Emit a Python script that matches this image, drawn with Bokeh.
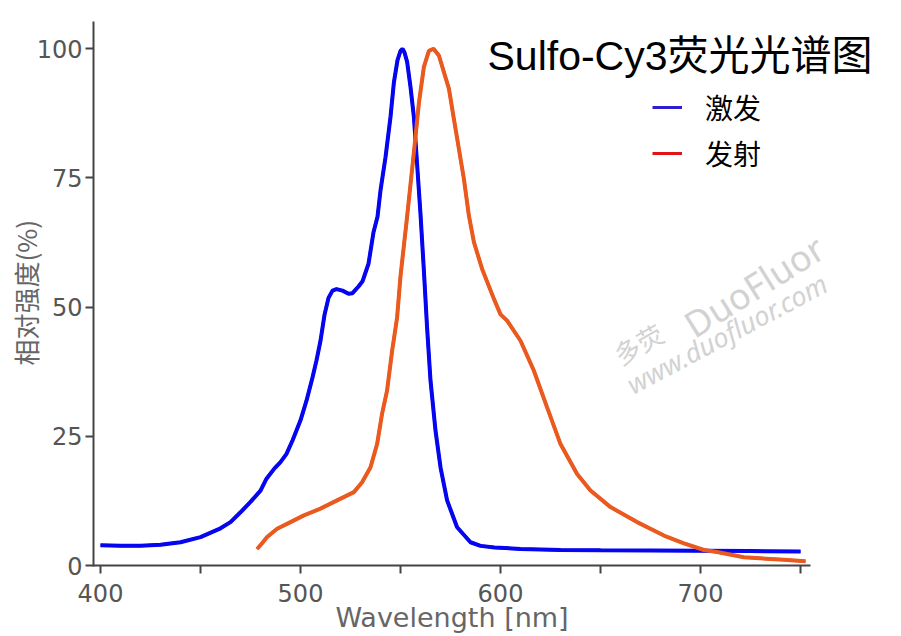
from bokeh.plotting import figure
from bokeh.models import Range1d, FixedTicker, Label, Legend, LegendItem
from bokeh.embed import file_html
from bokeh.resources import INLINE

# ---- data ----
ex_nm = [400, 410, 420, 430, 440, 450, 460, 465, 470, 475, 480, 483, 487, 490,
         493, 496, 500, 503, 506, 508, 510, 512, 514, 516, 518, 521, 524, 526,
         529, 531, 534, 536.5, 538.5, 540, 542.5, 545, 546.7, 548.5, 550, 551,
         552, 553.3, 555, 556.7, 558.3, 560, 561.7, 563.3, 565, 567.5, 570,
         573.3, 578.3, 585, 590, 597, 610, 630, 650, 675, 700, 725, 750]
ex_val = [3.9, 3.8, 3.8, 4.0, 4.5, 5.5, 7.2, 8.4, 10.3, 12.3, 14.5, 16.8, 18.8, 20.0,
          21.6, 24.2, 28.1, 31.9, 36.4, 39.7, 43.5, 48.5, 51.8, 53.2, 53.5, 53.2, 52.6, 52.7,
          54.0, 55.0, 58.4, 64.5, 67.5, 72.6, 79.0, 86.8, 93.5, 97.8, 99.6, 100.0,
          99.3, 97.5, 92.6, 86.8, 77.7, 68.0, 57.0, 46.0, 35.8, 26.1, 19.0,
          12.6, 7.4, 4.5, 3.8, 3.5, 3.2, 3.0, 2.95, 2.9, 2.85, 2.8, 2.7]

em_nm = [478.3, 481, 483.3, 488.3, 495, 501.7, 510, 518.3, 526.7, 530.8, 535, 538.3,
         540.8, 543.3, 545.8, 548.3, 550, 553.3, 556.7, 559.2, 561.7, 564.2, 566.5,
         569.2, 571.7, 574.2, 576.7, 579.2, 581.7, 584.2, 586.7, 590.8, 596.7, 600, 603.3, 610,
         616.7, 623.3, 630, 638.3, 645, 655, 668.3, 681.7, 691.7, 701.7, 708.3,
         721.7, 741.7, 752.5]
em_val = [3.2, 4.4, 5.5, 7.1, 8.4, 9.7, 11.0, 12.6, 14.2, 16.1, 19.0, 23.5,
          29.4, 33.9, 41.5, 48.0, 56.0, 67.5, 80.0, 89.5, 96.5, 99.6, 100.0,
          98.7, 95.5, 92.3, 86.4, 80.6, 74.8, 67.7, 62.6, 57.4, 51.6, 48.6, 47.4, 43.5,
          37.7, 30.6, 23.5, 17.7, 14.5, 11.3, 8.4, 5.8, 4.3, 3.0, 2.6,
          1.6, 1.1, 0.8]

x_ticks = [400, 450, 500, 550, 600, 650, 700, 750]
x_tick_labels = {400: "400", 450: "", 500: "500", 550: "", 600: "600", 650: "", 700: "700", 750: ""}
y_ticks = [0, 25, 50, 75, 100]

title_text = "Sulfo-Cy3荧光光谱图"
x_label = "Wavelength [nm]"
y_label = "相对强度(%)"
legend_labels = ["激发", "发射"]

W, H = 895, 634

# ---- figure: frame spans the whole canvas, axes are pinned inside it ----
p = figure(width=W, height=H, output_backend="svg", toolbar_location=None,
           x_range=Range1d(350, 350 + W / 2), y_range=Range1d(565 / 5.167 - H / 5.167, 565 / 5.167),
           min_border_left=0, min_border_right=0, min_border_top=0, min_border_bottom=0)
p.outline_line_color = None
p.xgrid.visible = False
p.ygrid.visible = False
p.background_fill_color = "white"
p.border_fill_color = "white"

# legend swatch renderers (hidden beneath the real curves)
lg_ex = p.line(ex_nm, ex_val, line_color="#2b1fd0", line_width=3)
lg_em = p.line(em_nm, em_val, line_color="#e01515", line_width=3)

ex_line = p.line(ex_nm, ex_val, line_color="#0505f0", line_width=4)
em_line = p.line(em_nm, em_val, line_color="#ea5a1f", line_width=4)

# axes
for ax in (p.xaxis[0], p.yaxis[0]):
    ax.axis_line_color = "#444444"
    ax.axis_line_width = 2
    ax.major_tick_line_color = "#444444"
    ax.major_tick_line_width = 2
    ax.major_tick_out = 8
    ax.major_tick_in = 0
    ax.minor_tick_line_color = None
    ax.major_label_text_color = "#555555"
    ax.major_label_text_font = "DejaVu Sans"
    ax.major_label_text_font_size = "24px"

p.xaxis.fixed_location = 0
p.xaxis.bounds = (396.5, 755)
p.xaxis.ticker = FixedTicker(ticks=x_ticks)
p.xaxis.major_label_overrides = x_tick_labels
p.xaxis.major_label_standoff = 10
p.xaxis.axis_label = x_label
p.xaxis.axis_label_text_font = "DejaVu Sans"
p.xaxis.axis_label_text_font_size = "27px"
p.xaxis.axis_label_text_font_style = "normal"
p.xaxis.axis_label_text_color = "#666666"
p.xaxis.axis_label_standoff = -3

p.yaxis.fixed_location = 396.5
p.yaxis.bounds = (-0.2, 105.3)
p.yaxis.ticker = FixedTicker(ticks=y_ticks)
p.yaxis.major_label_standoff = 3

# y axis title
p.add_layout(Label(x=362.5, y=52.8, text=y_label, angle=90, angle_units="deg",
                   text_align="center", text_baseline="middle",
                   text_font="Noto Sans CJK SC", text_font_size="26px",
                   text_color="#666666"))

# chart title
p.add_layout(Label(x=786, y=98.7, text=title_text, text_align="right",
                   text_baseline="alphabetic",
                   text_font="Liberation Sans, Noto Sans CJK SC", text_font_size="41px",
                   text_color="#000000"))

# watermark
p.add_layout(Label(x=693.5, y=46, text="DuoFluor", angle=32, angle_units="deg",
                   text_font="Noto Sans", text_font_size="36px", text_color="#d2d2d2",
                   text_align="left", text_baseline="alphabetic"))
p.add_layout(Label(x=664, y=34.8, text="www.duofluor.com", angle=28, angle_units="deg",
                   text_font="Noto Sans", text_font_size="27px", text_color="#d2d2d2",
                   text_font_style="italic", text_align="left", text_baseline="alphabetic"))
p.add_layout(Label(x=657.5, y=40.5, text="多荧", angle=30, angle_units="deg",
                   text_font="Noto Sans CJK SC", text_font_size="26px", text_color="#d2d2d2",
                   text_align="left", text_baseline="alphabetic"))

# legend
legend = Legend(items=[LegendItem(label=legend_labels[0], renderers=[lg_ex]),
                       LegendItem(label=legend_labels[1], renderers=[lg_em])],
                location=(652, H - 173))
legend.label_text_font = "Noto Sans CJK SC"
legend.label_text_font_size = "28px"
legend.label_text_color = "#000000"
legend.glyph_width = 30
legend.glyph_height = 30
legend.label_height = 30
legend.label_standoff = 23
legend.spacing = 6
legend.padding = 0
legend.margin = 0
legend.border_line_color = None
legend.background_fill_alpha = 0
p.add_layout(legend)

open("out.html", "w").write(file_html(p, INLINE))
